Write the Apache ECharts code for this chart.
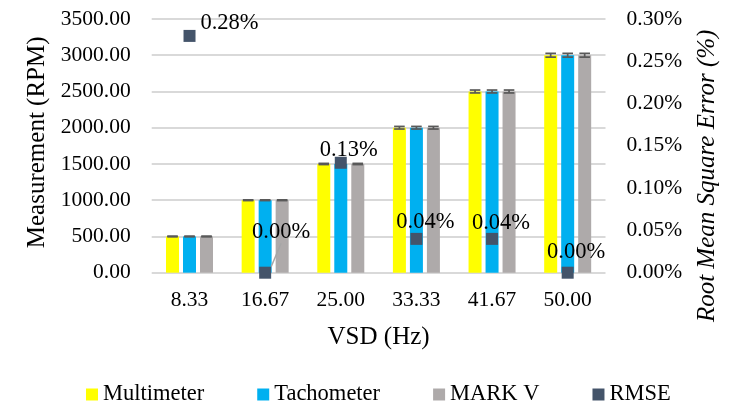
<!DOCTYPE html>
<html>
<head>
<meta charset="utf-8">
<script src="https://cdn.jsdelivr.net/npm/echarts@6/dist/echarts.min.js"></script>
<style>
html,body{margin:0;padding:0;background:#fff;}
#chart{width:749px;height:416px;}
</style>
</head>
<body>
<div id="chart"></div>
<script>
// ---- data ----
const categories = ['8.33', '16.67', '25.00', '33.33', '41.67', '50.00'];
const multimeter = [500, 1000, 1500, 2000, 2500, 3000];
const tachometer = [500, 1000, 1500, 2000, 2500, 3000];
const markV = [500, 1000, 1500, 2000, 2500, 3000];
const multimeterErr = [5, 5, 8, 18, 20, 26];
const tachometerErr = [5, 5, 8, 18, 20, 26];
const markVErr = [5, 5, 8, 18, 20, 26];
const rmse = [0.28, 0.00, 0.13, 0.04, 0.04, 0.00];
const leftTicks = [0, 500, 1000, 1500, 2000, 2500, 3000, 3500];
const rightTicks = [0, 0.05, 0.10, 0.15, 0.20, 0.25, 0.30];

// ---- styling ----
const FONT = "'Liberation Serif', 'Times New Roman', serif";
const BAR_W = 13;
const BAR_STEP = 17;
const rmseLabelOffset = [[40, -13], [16, -41], [8, -13], [9, -17], [9, -16], [8.5, -21]];
const rmseLeader = [false, true, false, false, false, false];

function errSeries(name, vals, errs, offset) {
  return {
    type: 'custom',
    name: name + ' err',
    xAxisIndex: 0,
    yAxisIndex: 0,
    z: 3,
    silent: true,
    data: categories.map((c, i) => [i, vals[i], errs[i]]),
    renderItem: function (params, api) {
      const i = api.value(0), v = api.value(1), e = api.value(2);
      const top = api.coord([i, v + e]);
      const bot = api.coord([i, v - e]);
      const x = top[0] + offset;
      const hw = 5.3;
      const st = { stroke: '#595959', lineWidth: 1.7 };
      return {
        type: 'group',
        children: [
          { type: 'line', shape: { x1: x, y1: top[1], x2: x, y2: bot[1] }, style: st },
          { type: 'line', shape: { x1: x - hw, y1: top[1], x2: x + hw, y2: top[1] }, style: st },
          { type: 'line', shape: { x1: x - hw, y1: bot[1], x2: x + hw, y2: bot[1] }, style: st }
        ]
      };
    }
  };
}

const chart = echarts.init(document.getElementById('chart'), null, { renderer: 'canvas' });
const option = {
  animation: false,
  backgroundColor: '#ffffff',
  textStyle: { fontFamily: FONT, color: '#000' },
  grid: { left: 151.7, right: 143.5, top: 19, bottom: 143.3, containLabel: false },
  legend: {
    data: ['Multimeter', 'Tachometer', 'MARK V', 'RMSE'],
    left: 81,
    top: 378,
    icon: 'rect',
    itemWidth: 12,
    itemHeight: 12,
    itemGap: 53,
    textStyle: { fontFamily: FONT, fontSize: 22.5, color: '#000' }
  },
  xAxis: {
    type: 'category',
    data: categories,
    axisLine: { show: false },
    axisTick: { show: false },
    axisLabel: { fontFamily: FONT, fontSize: 21.5, color: '#000', margin: 17 },
    name: 'VSD (Hz)',
    nameLocation: 'middle',
    nameGap: 52,
    nameTextStyle: { fontFamily: FONT, fontSize: 25, color: '#000' }
  },
  yAxis: [
    {
      type: 'value',
      min: leftTicks[0],
      max: leftTicks[leftTicks.length - 1],
      interval: leftTicks[1] - leftTicks[0],
      axisLine: { show: false },
      axisTick: { show: false },
      splitLine: { lineStyle: { color: '#d9d9d9', width: 2 } },
      axisLabel: { fontFamily: FONT, fontSize: 21.5, color: '#000', margin: 21, formatter: v => v.toFixed(2) },
      name: 'Measurement (RPM)',
      nameLocation: 'middle',
      nameGap: 100,
      nameTextStyle: { fontFamily: FONT, fontSize: 25, color: '#000', padding: [0, 0, 0, 7] }
    },
    {
      type: 'value',
      position: 'right',
      min: rightTicks[0],
      max: rightTicks[rightTicks.length - 1],
      interval: 0.05,
      axisLine: { show: false },
      axisTick: { show: false },
      splitLine: { show: false },
      axisLabel: { fontFamily: FONT, fontSize: 21.5, color: '#000', margin: 21, formatter: v => v.toFixed(2) + '%' },
      name: 'Root Mean Square Error (%)',
      nameLocation: 'middle',
      nameGap: 89.5,
      nameTextStyle: { fontFamily: FONT, fontSize: 25, fontStyle: 'italic', color: '#000', padding: [0, 60, 0, 0] }
    }
  ],
  series: [
    { type: 'bar', name: 'Multimeter', data: multimeter, barWidth: BAR_W, barGap: '30.77%', itemStyle: { color: '#FFFF00' }, z: 2 },
    { type: 'bar', name: 'Tachometer', data: tachometer, barWidth: BAR_W, barGap: '30.77%', itemStyle: { color: '#00B0F0' }, z: 2 },
    { type: 'bar', name: 'MARK V', data: markV, barWidth: BAR_W, barGap: '30.77%', itemStyle: { color: '#AEAAAA' }, z: 2 },
    errSeries('Multimeter', multimeter, multimeterErr, -BAR_STEP),
    errSeries('Tachometer', tachometer, tachometerErr, 0),
    errSeries('MARK V', markV, markVErr, BAR_STEP),
    {
      type: 'scatter',
      name: 'RMSE',
      yAxisIndex: 1,
      symbol: 'rect',
      symbolSize: 12,
      z: 5,
      itemStyle: { color: '#44546A', opacity: 1 },
      data: rmse.map((v, i) => ({
        value: v,
        label: { offset: rmseLabelOffset[i] },
        labelLine: { show: rmseLeader[i], lineStyle: { color: '#a6a6a6', width: 1.5 } }
      })),
      label: {
        show: true,
        position: 'inside',
        fontFamily: FONT,
        fontSize: 22.5,
        color: '#000',
        opacity: 1,
        formatter: p => p.value.toFixed(2) + '%'
      }
    }
  ]
};
chart.setOption(option);
</script>
</body>
</html>
